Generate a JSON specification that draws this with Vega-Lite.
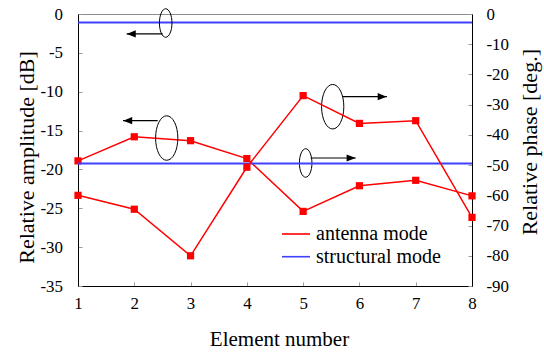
{
  "$schema": "https://vega.github.io/schema/vega-lite/v6.json",
  "width": 394,
  "height": 272,
  "autosize": {"type": "none"},
  "padding": {"left": 78, "top": 14, "right": 72, "bottom": 67},
  "background": "white",
  "config": {
    "font": "Liberation Serif",
    "locale": {"number": {"decimal": ".", "thousands": ",", "grouping": [3], "currency": ["$", ""], "minus": "-"}},
    "view": {"stroke": "#8c8c8c", "strokeWidth": 1},
    "axis": {
      "grid": false,
      "domainColor": "#000000",
      "domainWidth": 1,
      "titleFont": "Liberation Serif",
      "titleFontWeight": "normal",
      "titleColor": "#000000",
      "tickColor": "#9a9a9a",
      "tickSize": -4,
      "tickWidth": 1
    },
    "legend": {
      "orient": "none",
      "legendX": 208,
      "legendY": 210,
      "symbolType": "M-2,0L2,0",
      "symbolSize": 196,
      "symbolStrokeWidth": 1.6,
      "labelFont": "Liberation Serif",
      "labelFontSize": 20,
      "labelColor": "#000000",
      "labelOffset": 10,
      "rowPadding": 2.7,
      "padding": 0
    }
  },
  "datasets": {
    "series": [
      {"element": 1, "mode": "antenna mode", "amplitude": -18.9, "phase": -60.0},
      {"element": 2, "mode": "antenna mode", "amplitude": -15.8, "phase": -64.6},
      {"element": 3, "mode": "antenna mode", "amplitude": -16.3, "phase": -80.0},
      {"element": 4, "mode": "antenna mode", "amplitude": -18.6, "phase": -50.7},
      {"element": 5, "mode": "antenna mode", "amplitude": -25.4, "phase": -27.0},
      {"element": 6, "mode": "antenna mode", "amplitude": -22.1, "phase": -36.2},
      {"element": 7, "mode": "antenna mode", "amplitude": -21.4, "phase": -35.3},
      {"element": 8, "mode": "antenna mode", "amplitude": -23.4, "phase": -67.3},
      {"element": 1, "mode": "structural mode", "amplitude": -1.1, "phase": -49.5},
      {"element": 2, "mode": "structural mode", "amplitude": -1.1, "phase": -49.5},
      {"element": 3, "mode": "structural mode", "amplitude": -1.1, "phase": -49.5},
      {"element": 4, "mode": "structural mode", "amplitude": -1.1, "phase": -49.5},
      {"element": 5, "mode": "structural mode", "amplitude": -1.1, "phase": -49.5},
      {"element": 6, "mode": "structural mode", "amplitude": -1.1, "phase": -49.5},
      {"element": 7, "mode": "structural mode", "amplitude": -1.1, "phase": -49.5},
      {"element": 8, "mode": "structural mode", "amplitude": -1.1, "phase": -49.5}
    ],
    "annotations": [
      {"id": "A", "kind": "small", "dir": "left", "ex": 2.558, "ey": -1.16, "x1": 2.505, "x2": 1.865, "ay": -2.57, "hx": 1.946},
      {"id": "B", "kind": "large", "dir": "left", "ex": 2.576, "ey": -15.96, "x1": 2.416, "x2": 1.799, "ay": -13.73, "hx": 1.883},
      {"id": "C", "kind": "large", "dir": "right", "ex": 5.525, "ey": -11.93, "x1": 5.703, "x2": 6.489, "ay": -10.64, "hx": 6.404},
      {"id": "D", "kind": "small", "dir": "right", "ex": 5.045, "ey": -19.17, "x1": 5.134, "x2": 5.934, "ay": -18.53, "hx": 5.853}
    ]
  },
  "layer": [
    {
      "layer": [
        {
          "data": {"name": "series"},
          "transform": [{"filter": "datum.mode == 'structural mode'"}],
          "mark": {"type": "line", "strokeWidth": 2},
          "encoding": {
            "x": {"field": "element", "type": "quantitative", "scale": {"domain": [1, 8], "nice": false, "zero": false},
              "axis": {"values": [1, 2, 3, 4, 5, 6, 7, 8], "format": "d", "labelOverlap": false, "labelFlush": false, "labelFont": "Liberation Serif", "labelFontSize": 16.9, "labelColor": "#000000", "title": "Element number", "titleFontSize": 21, "titleX": 201, "titleY": 59, "titleBaseline": "alphabetic", "titleAlign": "center", "labelPadding": 13}},
            "y": {"field": "amplitude", "type": "quantitative", "scale": {"domain": [-35, 0], "nice": false, "zero": false},
              "axis": {"orient": "left", "values": [-35, -30, -25, -20, -15, -10, -5, 0], "tickCount": 8, "format": "d", "labelOverlap": false, "labelFlush": false, "labelFont": "Liberation Serif", "labelFontSize": 16.9, "labelColor": "#000000", "title": "Relative amplitude [dB]", "titleFontSize": 22, "titleAngle": 270, "titleX": -45, "titleY": 143, "titleBaseline": "alphabetic", "titleAlign": "center", "labelPadding": 19.5}},
            "color": {"field": "mode", "type": "nominal", "scale": {"domain": ["antenna mode", "structural mode"], "range": ["#ff0000", "#4040ff"]}, "legend": {"title": null}}
          }
        },
        {
          "data": {"name": "series"},
          "transform": [{"filter": "datum.mode == 'antenna mode'"}],
          "mark": {"type": "line", "strokeWidth": 1.5},
          "encoding": {
            "x": {"field": "element", "type": "quantitative"},
            "y": {"field": "amplitude", "type": "quantitative"},
            "color": {"field": "mode", "type": "nominal"}
          }
        },
        {
          "data": {"name": "series"},
          "transform": [{"filter": "datum.mode == 'antenna mode'"}],
          "mark": {"type": "point", "shape": "square", "filled": true, "size": 52, "color": "#ff0000", "opacity": 1},
          "encoding": {
            "x": {"field": "element", "type": "quantitative"},
            "y": {"field": "amplitude", "type": "quantitative"}
          }
        },
        {
          "data": {"name": "annotations"},
          "mark": {"type": "rule", "color": "#000000", "strokeWidth": 1.2},
          "encoding": {
            "x": {"field": "x1", "type": "quantitative"},
            "x2": {"field": "x2"},
            "y": {"field": "ay", "type": "quantitative"}
          }
        },
        {
          "data": {"name": "annotations"},
          "transform": [{"filter": "datum.kind == 'small'"}],
          "mark": {"type": "point", "shape": "M0,-1A0.44,1,0,1,1,0,1A0.44,1,0,1,1,0,-1Z", "filled": false, "size": 812, "stroke": "#000000", "strokeWidth": 1, "opacity": 1},
          "encoding": {
            "x": {"field": "ex", "type": "quantitative"},
            "y": {"field": "ey", "type": "quantitative"}
          }
        },
        {
          "data": {"name": "annotations"},
          "transform": [{"filter": "datum.kind == 'large'"}],
          "mark": {"type": "point", "shape": "M0,-1A0.5,1,0,1,1,0,1A0.5,1,0,1,1,0,-1Z", "filled": false, "size": 1980, "stroke": "#000000", "strokeWidth": 1, "opacity": 1},
          "encoding": {
            "x": {"field": "ex", "type": "quantitative"},
            "y": {"field": "ey", "type": "quantitative"}
          }
        },
        {
          "data": {"name": "annotations"},
          "transform": [{"filter": "datum.dir == 'left'"}],
          "mark": {"type": "point", "shape": "M-1,0L1,-0.8L1,0.8Z", "filled": true, "size": 81, "color": "#000000", "opacity": 1},
          "encoding": {
            "x": {"field": "hx", "type": "quantitative"},
            "y": {"field": "ay", "type": "quantitative"}
          }
        },
        {
          "data": {"name": "annotations"},
          "transform": [{"filter": "datum.dir == 'right'"}],
          "mark": {"type": "point", "shape": "M1,0L-1,-0.8L-1,0.8Z", "filled": true, "size": 81, "color": "#000000", "opacity": 1},
          "encoding": {
            "x": {"field": "hx", "type": "quantitative"},
            "y": {"field": "ay", "type": "quantitative"}
          }
        }
      ]
    },
    {
      "layer": [
        {
          "data": {"name": "series"},
          "transform": [{"filter": "datum.mode == 'structural mode'"}],
          "mark": {"type": "line", "strokeWidth": 2},
          "encoding": {
            "x": {"field": "element", "type": "quantitative"},
            "y": {"field": "phase", "type": "quantitative", "scale": {"domain": [-90, 0], "nice": false, "zero": false},
              "axis": {"orient": "right", "values": [-90, -80, -70, -60, -50, -40, -30, -20, -10, 0], "tickCount": 10, "format": "d", "labelOverlap": false, "labelFlush": false, "labelFont": "Liberation Serif", "labelFontSize": 16.9, "labelColor": "#000000", "title": "Relative phase [deg.]", "titleFontSize": 22, "titleAngle": 270, "titleX": 64.7, "titleY": 127.7, "titleBaseline": "alphabetic", "titleAlign": "center", "labelPadding": 18}},
            "color": {"field": "mode", "type": "nominal"}
          }
        },
        {
          "data": {"name": "series"},
          "transform": [{"filter": "datum.mode == 'antenna mode'"}],
          "mark": {"type": "line", "strokeWidth": 1.5},
          "encoding": {
            "x": {"field": "element", "type": "quantitative"},
            "y": {"field": "phase", "type": "quantitative"},
            "color": {"field": "mode", "type": "nominal"}
          }
        },
        {
          "data": {"name": "series"},
          "transform": [{"filter": "datum.mode == 'antenna mode'"}],
          "mark": {"type": "point", "shape": "square", "filled": true, "size": 52, "color": "#ff0000", "opacity": 1},
          "encoding": {
            "x": {"field": "element", "type": "quantitative"},
            "y": {"field": "phase", "type": "quantitative"}
          }
        }
      ]
    }
  ],
  "resolve": {"scale": {"y": "independent"}}
}
